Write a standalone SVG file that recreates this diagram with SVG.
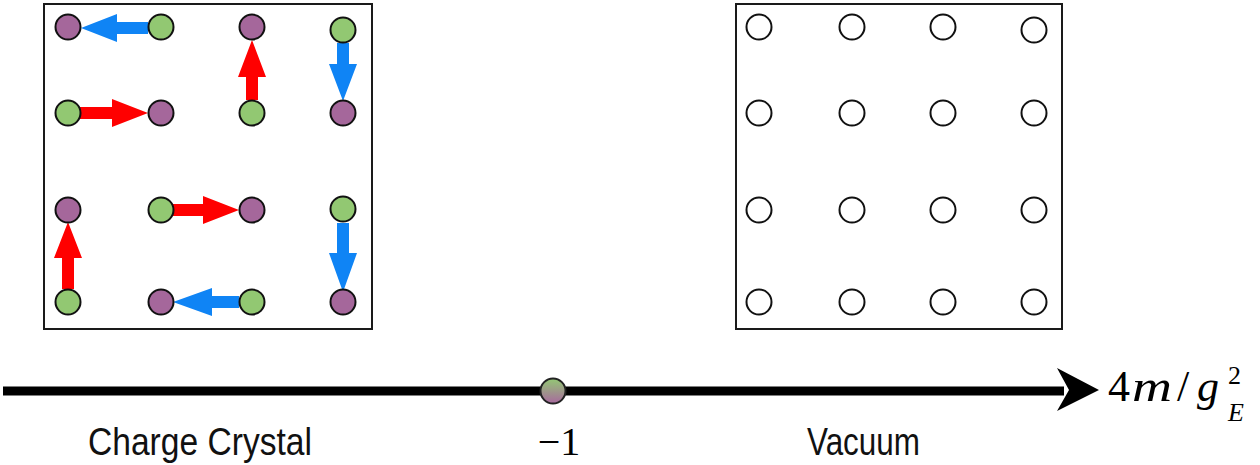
<svg xmlns="http://www.w3.org/2000/svg" width="1260" height="465" viewBox="0 0 1260 465">
<defs>
<linearGradient id="mix" x1="0" y1="0" x2="0" y2="1">
<stop offset="0" stop-color="#93c874"/>
<stop offset="1" stop-color="#a8699e"/>
</linearGradient>
</defs>
<style>
.box{fill:#fff;stroke:#1a1a1a;stroke-width:2}
.g{fill:#92c872;stroke:#111;stroke-width:2}
.p{fill:#a5679b;stroke:#111;stroke-width:2}
.o{fill:#fff;stroke:#111;stroke-width:2}
.red{fill:#ff0000}
.blue{fill:#0f84f5}
.lbl{font-family:"Liberation Sans",Arial,sans-serif;font-size:38px;fill:#111}
.math{font-family:"Liberation Serif","Times New Roman",serif;fill:#000}
</style>
<rect width="1260" height="465" fill="#fff"/>
<g id="crystal-box">
<rect class="box" x="44" y="4" width="328" height="325"/>
</g>
<g id="vacuum-box">
<rect class="box" x="736" y="4" width="326" height="325"/>
</g>
<g id="connectors">
<polygon class="blue" points="148,22 117,22 117,14 81,28 117,42 117,34 148,34"/>
<polygon class="red" points="80,107 112,107 112,99 148,113 112,127 112,119 80,119"/>
<polygon class="red" points="246,100 246,77 238,77 252,40 266,77 258,77 258,100"/>
<polygon class="blue" points="337,43 337,64 329,64 343,101 357,64 349,64 349,43"/>
<polygon class="red" points="62,289 62,258 54,258 68,222 82,258 74,258 74,289"/>
<polygon class="red" points="173,204 203,204 203,196 239,210 203,224 203,216 173,216"/>
<polygon class="blue" points="337,223 337,253 329,253 343,292 357,253 349,253 349,223"/>
<polygon class="blue" points="239,296 212,296 212,288 173,302 212,316 212,308 239,308"/>
<line x1="3" y1="391" x2="1064" y2="391" stroke="#000" stroke-width="9"/>
<polygon points="1099,390 1057,368 1069,390 1057,411" fill="#000"/>
</g>
<g id="crystal-sites">
<circle class="p" cx="68" cy="27" r="12.5"/>
<circle class="g" cx="161" cy="27" r="12.5"/>
<circle class="p" cx="252" cy="27" r="12.5"/>
<circle class="g" cx="343" cy="30" r="12.5"/>
<circle class="g" cx="68" cy="113" r="12.5"/>
<circle class="p" cx="161" cy="113" r="12.5"/>
<circle class="g" cx="252" cy="113" r="12.5"/>
<circle class="p" cx="343" cy="113" r="12.5"/>
<circle class="p" cx="68" cy="210" r="12.5"/>
<circle class="g" cx="161" cy="210" r="12.5"/>
<circle class="p" cx="252" cy="210" r="12.5"/>
<circle class="g" cx="343" cy="209" r="12.5"/>
<circle class="g" cx="68" cy="302" r="12.5"/>
<circle class="p" cx="161" cy="302" r="12.5"/>
<circle class="g" cx="252" cy="302" r="12.5"/>
<circle class="p" cx="343" cy="302" r="12.5"/>
</g>
<g id="vacuum-sites">
<circle class="o" cx="759" cy="27" r="12.5"/>
<circle class="o" cx="852" cy="27" r="12.5"/>
<circle class="o" cx="943" cy="27" r="12.5"/>
<circle class="o" cx="1034" cy="30" r="12.5"/>
<circle class="o" cx="759" cy="113" r="12.5"/>
<circle class="o" cx="852" cy="113" r="12.5"/>
<circle class="o" cx="943" cy="113" r="12.5"/>
<circle class="o" cx="1034" cy="113" r="12.5"/>
<circle class="o" cx="759" cy="210" r="12.5"/>
<circle class="o" cx="852" cy="210" r="12.5"/>
<circle class="o" cx="943" cy="210" r="12.5"/>
<circle class="o" cx="1034" cy="210" r="12.5"/>
<circle class="o" cx="759" cy="302" r="12.5"/>
<circle class="o" cx="852" cy="302" r="12.5"/>
<circle class="o" cx="943" cy="302" r="12.5"/>
<circle class="o" cx="1034" cy="302" r="12.5"/>
</g>
<g id="transition-point">
<circle cx="553" cy="391" r="12.5" fill="url(#mix)" stroke="#222" stroke-width="2"/>
<text class="math" x="559" y="455" font-size="40" text-anchor="middle">−1</text>
</g>
<g id="axis-label">
<text class="math" y="401" font-size="44"><tspan x="1108">4</tspan><tspan x="1132" font-style="italic" textLength="40" lengthAdjust="spacingAndGlyphs">m</tspan><tspan x="1177">/</tspan><tspan x="1197" font-style="italic">g</tspan><tspan x="1228" y="384" font-size="26">2</tspan><tspan x="1228" y="421" font-size="26" font-style="italic">E</tspan></text>
</g>
<g id="labels">
<text class="lbl" x="88" y="455" textLength="224" lengthAdjust="spacingAndGlyphs">Charge Crystal</text>
<text class="lbl" x="807" y="455" textLength="113" lengthAdjust="spacingAndGlyphs">Vacuum</text>
</g>
</svg>
